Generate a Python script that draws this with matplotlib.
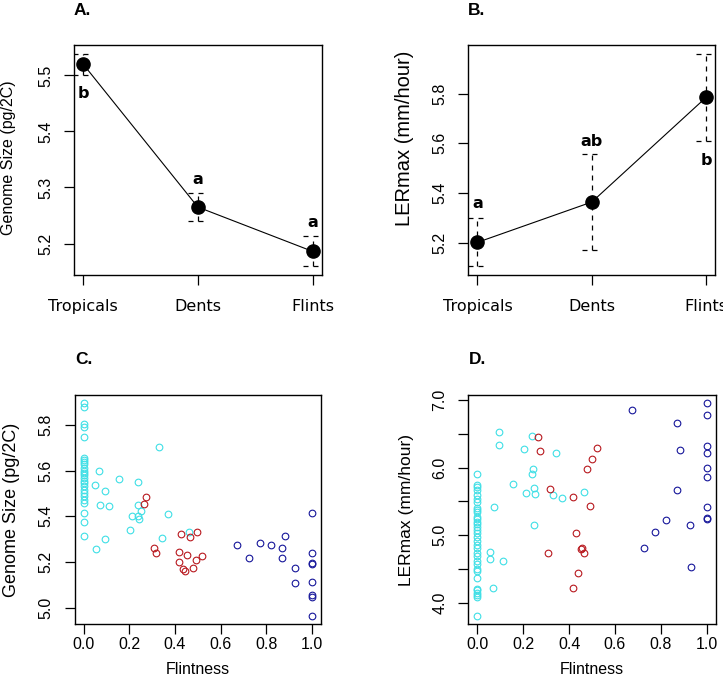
import matplotlib
matplotlib.use('Agg')
import matplotlib.pyplot as plt

# group means and standard errors (panels A and B)
groups = ['Tropicals', 'Dents', 'Flints']
gs_mean = [5.520, 5.265, 5.186]
gs_se = [0.019, 0.0245, 0.027]
gs_letters = ['b', 'a', 'a']
ler_mean = [5.202, 5.364, 5.785]
ler_se = [0.097, 0.192, 0.176]
ler_letters = ['a', 'ab', 'b']

# panel C: flintness vs genome size
c_trop_x = [0.0] * 25 + [0.066, 0.051, 0.091, 0.069, 0.110, 0.091, 0.053, 0.328, 0.153, 0.236,
                         0.236, 0.250, 0.212, 0.238, 0.242, 0.368, 0.202, 0.342, 0.460]
c_trop_y = [5.894, 5.877, 5.803, 5.789, 5.749, 5.656, 5.648, 5.639, 5.627, 5.612, 5.600, 5.589,
            5.580, 5.568, 5.556, 5.545, 5.531, 5.517, 5.502, 5.487, 5.473, 5.458, 5.414, 5.374,
            5.313,
            5.597, 5.539, 5.509, 5.451, 5.446, 5.300, 5.257, 5.705, 5.564, 5.551,
            5.448, 5.424, 5.402, 5.399, 5.390, 5.411, 5.339, 5.304, 5.329]
c_dent_x = [0.272, 0.264, 0.307, 0.315, 0.425, 0.464, 0.495, 0.416, 0.451, 0.520, 0.416, 0.490,
            0.437, 0.445, 0.477]
c_dent_y = [5.485, 5.454, 5.260, 5.238, 5.323, 5.308, 5.330, 5.244, 5.229, 5.225, 5.200, 5.208,
            5.169, 5.160, 5.173]
c_flint_x = [0.670, 0.723, 0.771, 0.819, 0.880, 0.867, 0.867, 0.927, 0.924,
             1.0, 1.0, 1.0, 1.0, 1.0, 1.0, 1.0, 1.0]
c_flint_y = [5.273, 5.216, 5.283, 5.273, 5.313, 5.260, 5.216, 5.172, 5.106,
             5.414, 5.238, 5.197, 5.189, 5.110, 5.057, 5.047, 4.965]

# panel D: flintness vs LERmax
d_trop_x = [0.0] * 34 + [0.093, 0.093, 0.071, 0.055, 0.055, 0.111, 0.067, 0.239, 0.204, 0.344,
                         0.244, 0.239, 0.156, 0.248, 0.213, 0.252, 0.331, 0.371, 0.463, 0.248]
d_trop_y = [5.907, 5.748, 5.708, 5.669, 5.599, 5.540, 5.491, 5.411, 5.377, 5.342, 5.277, 5.243,
            5.203, 5.164, 5.124, 5.080, 5.030, 4.980, 4.916, 4.857, 4.817, 4.733, 4.698, 4.619,
            4.570, 4.510, 4.471, 4.371, 4.214, 4.189, 4.154, 4.114, 4.089, 3.817,
            6.530, 6.337, 5.416, 4.748, 4.644, 4.619, 4.223, 6.471, 6.268, 6.218,
            5.981, 5.907, 5.758, 5.699, 5.624, 5.610, 5.595, 5.550, 5.639, 5.149]
d_dent_x = [0.266, 0.274, 0.523, 0.498, 0.480, 0.318, 0.419, 0.493, 0.428, 0.309, 0.450, 0.458,
            0.467, 0.441, 0.419]
d_dent_y = [6.456, 6.248, 6.293, 6.129, 5.981, 5.684, 5.565, 5.432, 5.030, 4.733, 4.802, 4.812,
            4.733, 4.451, 4.228]
d_flint_x = [0.673, 0.870, 0.883, 0.870, 0.822, 0.774, 0.927, 0.725, 0.931,
             1.0, 1.0, 1.0, 1.0, 1.0, 1.0, 1.0, 1.0, 1.0]
d_flint_y = [6.847, 6.664, 6.263, 5.669, 5.223, 5.045, 5.149, 4.807, 4.540,
             6.946, 6.783, 6.312, 6.219, 5.996, 5.862, 5.417, 5.258, 5.243]

col_trop = '#3fdfe6'
col_dent = '#b8191f'
col_flint = '#16169a'

plt.rcParams['font.family'] = ['Liberation Sans', 'DejaVu Sans']
W, H = 723, 685
fig = plt.figure(figsize=(W / 100, H / 100), dpi=100)


def box(l, t, r, b):
    return [l / W, 1 - b / H, (r - l) / W, (b - t) / H]


def style(ax):
    for s in ax.spines.values():
        s.set_linewidth(1.0)
    ax.tick_params(length=7.2, width=0.9, labelsize=11.5)
    ax.tick_params(axis='y', labelrotation=90, pad=8)
    for lab in ax.get_yticklabels():
        lab.set_va('center')


def means_panel(ax, mean, se, letters, offs, yticks, ylabel, lab_x, lab_y, lab_size):
    x = [1, 2, 3]
    ax.plot(x, mean, color='black', lw=0.8, marker='o', ms=9.5, zorder=3)
    lo = [m - s for m, s in zip(mean, se)]
    hi = [m + s for m, s in zip(mean, se)]
    dash = (0, (4, 4))
    ax.vlines(x, lo, hi, colors='black', linestyles=dash, lw=0.9)
    ax.hlines(lo, [i - 0.085 for i in x], [i + 0.085 for i in x], colors='black', linestyles=dash, lw=0.9)
    ax.hlines(hi, [i - 0.085 for i in x], [i + 0.085 for i in x], colors='black', linestyles=dash, lw=0.9)
    for xi, ly, t in zip(x, offs, letters):
        ax.text(xi, ly, t, ha='center', va='center', fontsize=11.5, fontweight='bold',
                family='DejaVu Sans')
    ax.set_xlim(0.92, 3.08)
    ax.margins(y=0.04)
    ax.set_xticks(x)
    ax.set_xticklabels(groups, family='DejaVu Sans', fontsize=11)
    ax.set_yticks(yticks)
    style(ax)
    ax.tick_params(axis='x', pad=10)
    fig.text(lab_x / W, 1 - lab_y / H, ylabel, rotation=90, ha='center', va='center', fontsize=lab_size)


def scatter_panel(ax, sets, yticks, ylabels, ylabel, lab_x, lab_size):
    for xs, ys, c in sets:
        ax.plot(xs, ys, 'o', mfc='none', mec=c, ms=4.8, mew=0.8)
    ax.margins(x=0.04, y=0.04)
    ax.set_xticks([0, 0.2, 0.4, 0.6, 0.8, 1.0])
    ax.set_xticklabels(['0.0', '0.2', '0.4', '0.6', '0.8', '1.0'])
    ax.set_yticks(yticks)
    ax.set_yticklabels(ylabels)
    style(ax)
    ax.tick_params(axis='x', pad=2)
    ax.set_xlabel('Flintness', fontsize=11.5, labelpad=7)
    fig.text(lab_x / W, 1 - 509.5 / H, ylabel, rotation=90, ha='center', va='center', fontsize=lab_size)


axA = fig.add_axes(box(74, 45, 321.7, 275))
means_panel(axA, gs_mean, gs_se, gs_letters, [5.467, 5.314, 5.237],
            [5.2, 5.3, 5.4, 5.5], 'Genome Size (pg/2C)', 9, 158, 11.5)
axB = fig.add_axes(box(468.3, 45, 715.3, 275))
means_panel(axB, ler_mean, ler_se, ler_letters, [5.357, 5.606, 5.530],
            [5.2, 5.4, 5.6, 5.8], 'LERmax (mm/hour)', 404, 138, 14.5)

axC = fig.add_axes(box(74.7, 395, 321, 624))
scatter_panel(axC, [(c_trop_x, c_trop_y, col_trop), (c_dent_x, c_dent_y, col_dent),
                    (c_flint_x, c_flint_y, col_flint)],
              [5.0, 5.2, 5.4, 5.6, 5.8], ['5.0', '5.2', '5.4', '5.6', '5.8'],
              'Genome Size (pg/2C)', 12, 13)
axD = fig.add_axes(box(468.3, 395, 715.7, 624))
scatter_panel(axD, [(d_trop_x, d_trop_y, col_trop), (d_dent_x, d_dent_y, col_dent),
                    (d_flint_x, d_flint_y, col_flint)],
              [4.0, 4.5, 5.0, 5.5, 6.0, 6.5, 7.0], ['4.0', '', '5.0', '', '6.0', '', '7.0'],
              'LERmax (mm/hour)', 406, 12.5)

for t, x, y in [('A.', 74, 15), ('B.', 468, 15), ('C.', 75, 364), ('D.', 469, 364)]:
    fig.text(x / W, 1 - y / H, t, fontsize=12.5, fontweight='bold', ha='left', va='baseline')

fig.savefig('out.png', dpi=100)
